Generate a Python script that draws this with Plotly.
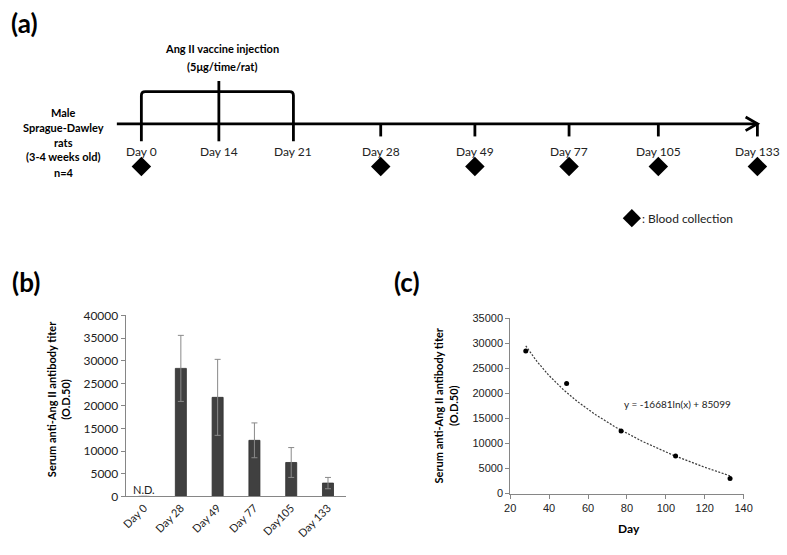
import numpy as np
import plotly.graph_objects as go

W, H = 787, 555

# ---------------- data ----------------
timeline_labels = ["Day 0", "Day 14", "Day 21", "Day 28", "Day 49", "Day 77", "Day 105", "Day 133"]
blood_days = ["Day 0", "Day 28", "Day 49", "Day 77", "Day 105", "Day 133"]

bar_categories = ["Day 0", "Day 28", "Day 49", "Day 77", "Day105", "Day 133"]
bar_values = [0, 28300, 21900, 12400, 7500, 2950]
bar_errors = [0, 7300, 8400, 3850, 3300, 1250]

scatter_days = [28, 49, 77, 105, 133]
scatter_values = [28500, 22000, 12500, 7500, 3000]
trend_coef = -16681
trend_intercept = 85099

y_ticks_b = [0, 5000, 10000, 15000, 20000, 25000, 30000, 35000, 40000]

# ---------------- schematic layout (pixel positions of the timeline) ----------------
TL_X = [138, 217, 293, 382, 478, 574, 665, 766]
TL_Y = 119
pos = dict(zip(timeline_labels, TL_X))

fig = go.Figure()

# ----- panel (a): schematic on a hidden pixel axis -----
fig.add_trace(go.Scatter(
    x=[pos[d] for d in blood_days], y=[163] * len(blood_days),
    mode="markers", marker=dict(symbol="diamond", size=15, color="black"),
    xaxis="x3", yaxis="y3", hoverinfo="skip", showlegend=False))
fig.add_trace(go.Scatter(
    x=[638], y=[216], mode="markers",
    marker=dict(symbol="diamond", size=14, color="black"),
    xaxis="x3", yaxis="y3", hoverinfo="skip", showlegend=False))

shapes = []
lw = 2.8
shapes.append(dict(type="line", xref="x3", yref="y3", x0=113, x1=766, y0=TL_Y, y1=TL_Y,
                   line=dict(color="black", width=lw)))
shapes.append(dict(type="path", xref="x3", yref="y3",
                   path=f"M 754,112 L 766,{TL_Y} L 754,126",
                   line=dict(color="black", width=lw)))
x0, x1 = pos["Day 0"], pos["Day 21"]
shapes.append(dict(type="path", xref="x3", yref="y3",
                   path=f"M {x0},137 L {x0},90 Q {x0},86 {x0+4},86 L {x1-4},86 Q {x1},86 {x1},90 L {x1},137",
                   line=dict(color="black", width=lw)))
shapes.append(dict(type="line", xref="x3", yref="y3", x0=pos["Day 14"], x1=pos["Day 14"],
                   y0=75, y1=137, line=dict(color="black", width=lw)))
for d in ["Day 28", "Day 49", "Day 77", "Day 105", "Day 133"]:
    shapes.append(dict(type="line", xref="x3", yref="y3", x0=pos[d], x1=pos[d],
                       y0=TL_Y, y1=132, line=dict(color="black", width=lw)))

annotations = []
fa = "Lato, 'Noto Sans', sans-serif"
for d in timeline_labels:
    annotations.append(dict(xref="x3", yref="y3", x=pos[d], y=147, text=d, showarrow=False,
                            font=dict(family=fa, size=12, color="#222")))
annotations.append(dict(xref="x3", yref="y3", x=220, y=42, text="<b>Ang II vaccine injection</b>",
                        showarrow=False, font=dict(family=fa, size=11, color="black")))
annotations.append(dict(xref="x3", yref="y3", x=220, y=60, text="<b>(5μg/time/rat)</b>",
                        showarrow=False, font=dict(family=fa, size=11, color="black")))
for txt, yy in [("Male", 107), ("Sprague-Dawley", 123), ("rats", 138), ("(3-4 weeks old)", 153), ("n=4", 169)]:
    annotations.append(dict(xref="x3", yref="y3", x=59, y=yy, text=f"<b>{txt}</b>",
                            showarrow=False, font=dict(family=fa, size=11, color="black")))
annotations.append(dict(xref="x3", yref="y3", x=646, y=216, text=": Blood collection",
                        xanchor="left", showarrow=False, font=dict(family=fa, size=12, color="#222")))
for lab, xx, yy in [("(a)", 19, 15), ("(b)", 20, 282), ("(c)", 409, 282)]:
    annotations.append(dict(xref="x3", yref="y3", x=xx, y=yy, text=f"<b>{lab}</b>",
                            showarrow=False, font=dict(family=fa, size=26, color="black")))

# ----- panel (b): bar chart -----
fig.add_trace(go.Bar(
    x=bar_categories, y=bar_values, width=0.3,
    marker=dict(color="#404040", line=dict(color="#2e2e2e", width=0.8)),
    error_y=dict(type="data", array=bar_errors, visible=True, color="#8a8a8a", thickness=1, width=3),
    xaxis="x", yaxis="y", showlegend=False, hoverinfo="skip"))
annotations.append(dict(xref="x", yref="y", x="Day 0", y=0, yshift=7, text="N.D.", showarrow=False,
                        font=dict(family=fa, size=11, color="#222")))
annotations.append(dict(xref="x3", yref="y3", x=53, y=402, textangle=-90,
                        text="<b>Serum anti-Ang II antibody titer<br>(O.D.50)</b>",
                        showarrow=False, font=dict(family=fa, size=11, color="black")))

# ----- panel (c): scatter + log trend -----
tx = np.linspace(scatter_days[0], scatter_days[-1], 200)
ty = trend_coef * np.log(tx) + trend_intercept
fig.add_trace(go.Scatter(x=tx, y=ty, mode="lines",
                         line=dict(color="#3a3a3a", width=1.2, dash="2px,1.5px"),
                         xaxis="x2", yaxis="y2", showlegend=False, hoverinfo="skip"))
fig.add_trace(go.Scatter(x=scatter_days, y=scatter_values, mode="markers",
                         marker=dict(color="black", size=5),
                         xaxis="x2", yaxis="y2", showlegend=False, hoverinfo="skip"))
annotations.append(dict(xref="x3", yref="y3", x=628, y=407, xanchor="left",
                        text="y = -16681ln(x) + 85099", showarrow=False,
                        font=dict(family=fa, size=10, color="#222")))
annotations.append(dict(xref="x3", yref="y3", x=449, y=408, textangle=-90,
                        text="<b>Serum anti-Ang II antibody titer<br>(O.D.50)</b>",
                        showarrow=False, font=dict(family=fa, size=11, color="black")))
annotations.append(dict(xref="x3", yref="y3", x=635, y=535, text="<b>Day</b>",
                        showarrow=False, font=dict(family=fa, size=12, color="black")))

px = lambda v: v / W
py = lambda v: 1 - v / H
axis_gray = "#868686"
farial = "'Liberation Sans', Arial, sans-serif"

fig.update_layout(
    width=W, height=H, margin=dict(l=0, r=0, t=0, b=0),
    paper_bgcolor="white", plot_bgcolor="rgba(0,0,0,0)",
    shapes=shapes, annotations=annotations,
    xaxis=dict(domain=[px(122), px(347)], type="category", showgrid=False, zeroline=False,
               showline=True, linecolor=axis_gray, ticks="", tickangle=-45,
               tickfont=dict(family=fa, size=11, color="#222"), anchor="y", fixedrange=True),
    yaxis=dict(domain=[py(502), py(316)], range=[0, 40000], showgrid=False, zeroline=False,
               showline=True, linecolor=axis_gray, ticks="outside", ticklen=4, tickcolor=axis_gray,
               tickmode="array", tickvals=y_ticks_b,
               ticktext=[str(v) for v in y_ticks_b], ticklabeloverflow="allow",
               tickfont=dict(family=fa, size=12, color="#222"),
               anchor="x", fixedrange=True),
    xaxis2=dict(domain=[px(514), px(752)], range=[20, 140], dtick=20, showgrid=False, zeroline=False,
                showline=True, linecolor=axis_gray, ticks="outside", ticklen=4, tickcolor=axis_gray,
                ticklabeloverflow="allow",
                tickfont=dict(family=farial, size=11, color="#222"), anchor="y2", fixedrange=True),
    yaxis2=dict(domain=[py(499), py(319)], range=[0, 35000], dtick=5000, tickformat="d",
                showgrid=False, zeroline=False, ticklabeloverflow="allow",
                showline=True, linecolor=axis_gray, ticks="outside", ticklen=4, tickcolor=axis_gray,
                tickfont=dict(family=farial, size=11, color="#222"), anchor="x2", fixedrange=True),
    xaxis3=dict(domain=[0, 1], range=[0, W], visible=False, anchor="y3", fixedrange=True),
    yaxis3=dict(domain=[0, 1], range=[H, 0], visible=False, anchor="x3", fixedrange=True),
)

fig.write_html("out.html", config={"displayModeBar": False},
               post_script="document.body.style.margin='0';document.body.style.overflow='hidden';")
